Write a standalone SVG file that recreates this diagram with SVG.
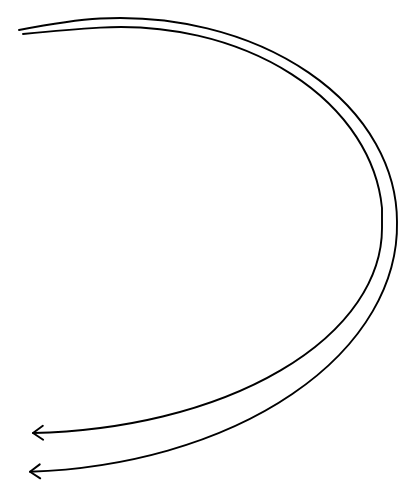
<svg xmlns="http://www.w3.org/2000/svg" width="416" height="500" viewBox="0 0 416 500">
<style>
.c{fill:none;stroke:#000;stroke-width:1.9;stroke-linecap:round;stroke-linejoin:round}
</style>
<defs>
<marker id="ah" markerUnits="userSpaceOnUse" markerWidth="20" markerHeight="20" viewBox="-12 -10 14 20" refX="0" refY="0" orient="auto">
<path d="M-10,-7 L0,0 L-10,7" fill="none" stroke="#000" stroke-width="1.9" stroke-linecap="round" stroke-linejoin="round"/>
</marker>
</defs>
<rect width="416" height="500" fill="#fff"/>
<g id="connectors">
<path class="c" marker-end="url(#ah)" d="M19,30 C45,25 75,19.8 100,18.5 A277,204 0 0 1 397,222 A387,247 0 0 1 30,471.7"/>
<path class="c" marker-end="url(#ah)" d="M23,34 C48,31.5 75,29 100,27.6 A262,195 0 0 1 382,208 L382,228 A362,205 0 0 1 33,433"/>
</g>
</svg>
